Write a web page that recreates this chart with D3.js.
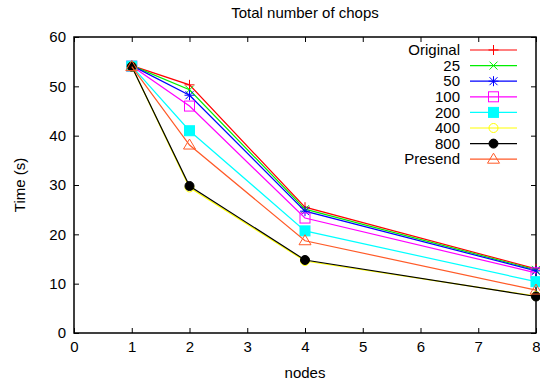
<!DOCTYPE html>
<html>
<head>
<meta charset="UTF-8">
<title>Total number of chops</title>
<style>
  body { margin: 0; background: #fff; }
  svg { display: block; font-family: "Liberation Sans", Arial, sans-serif; }
  text { fill: #000; }
</style>
</head>
<body>
<div id="app"></div>
<script src="https://d3js.org/d3.v7.min.js"></script>
<script>
// values
let nodes = [1, 2, 4, 8]
let original = [54.2, 50.3, 25.5, 13.0]
let s25 = [54.2, 49.3, 25.1, 12.8]
let s50 = [54.2, 48.2, 24.7, 12.6]
let s100 = [54.1, 46.0, 23.3, 12.2]
let s200 = [54.1, 41.0, 20.7, 10.4]
let s400 = [54.0, 29.5, 14.6, 7.5]
let s800 = [54.0, 29.8, 14.8, 7.4]
let presend = [54.0, 38.1, 18.7, 8.7]
let xTicks = [0, 1, 2, 3, 4, 5, 6, 7, 8]
let yTicks = [0, 10, 20, 30, 40, 50, 60]

let series = [
  { name: 'Original', values: original, color: '#ff0000', mark: 'plus' },
  { name: '25', values: s25, color: '#00ee00', mark: 'cross' },
  { name: '50', values: s50, color: '#0000ff', mark: 'star' },
  { name: '100', values: s100, color: '#ff00ff', mark: 'box' },
  { name: '200', values: s200, color: '#00ffff', mark: 'fbox' },
  { name: '400', values: s400, color: '#ffff00', mark: 'circle' },
  { name: '800', values: s800, color: '#000000', mark: 'fcircle' },
  { name: 'Presend', values: presend, color: '#ff5a28', mark: 'tri' }
]

let W = 540, H = 385
let pLeft = 74, pRight = 536, pTop = 37, pBottom = 333

let svg = d3.select('#app').append('svg')
  .attr('width', W).attr('height', H)

let x = d3.scaleLinear().domain([0, 8]).range([pLeft, pRight])
let y = d3.scaleLinear().domain([0, 60]).range([pBottom, pTop])

// ticks, inward with mirrors
let tk = 5
svg.append('g').attr('transform', 'translate(0,' + pBottom + ')')
  .call(d3.axisBottom(x).tickValues(xTicks).tickSize(-tk).tickPadding(8))
svg.append('g').attr('transform', 'translate(0,' + pTop + ')')
  .call(d3.axisTop(x).tickValues(xTicks).tickSize(-tk).tickFormat(''))
svg.append('g').attr('transform', 'translate(' + pLeft + ',0)')
  .call(d3.axisLeft(y).tickValues(yTicks).tickSize(-tk).tickPadding(8))
svg.append('g').attr('transform', 'translate(' + pRight + ',0)')
  .call(d3.axisRight(y).tickValues(yTicks).tickSize(-tk).tickFormat(''))

svg.selectAll('.domain').remove()
svg.selectAll('.tick line').attr('stroke', '#000').attr('stroke-width', 1)
svg.selectAll('.tick text').attr('font-size', 15).attr('font-family', '"Liberation Sans", Arial, sans-serif')

svg.append('rect')
  .attr('x', pLeft).attr('y', pTop)
  .attr('width', pRight - pLeft).attr('height', pBottom - pTop)
  .attr('fill', 'none').attr('stroke', '#000').attr('stroke-width', 1.5)

svg.append('text').attr('x', (pLeft + pRight) / 2).attr('y', 18)
  .attr('text-anchor', 'middle').attr('font-size', 15)
  .text('Total number of chops')
svg.append('text').attr('x', (pLeft + pRight) / 2).attr('y', 378)
  .attr('text-anchor', 'middle').attr('font-size', 15)
  .text('nodes')
svg.append('text')
  .attr('transform', 'translate(25,' + (pTop + pBottom) / 2 + ') rotate(-90)')
  .attr('text-anchor', 'middle').attr('font-size', 15)
  .text('Time (s)')

function drawMark(g, kind, cx, cy, color) {
  let r = 5
  if (kind === 'plus' || kind === 'star') {
    g.append('path').attr('d', 'M' + (cx - r) + ',' + cy + 'H' + (cx + r) + 'M' + cx + ',' + (cy - r) + 'V' + (cy + r))
      .attr('stroke', color).attr('fill', 'none')
  }
  if (kind === 'cross' || kind === 'star') {
    let d = r * 0.8
    g.append('path').attr('d', 'M' + (cx - d) + ',' + (cy - d) + 'L' + (cx + d) + ',' + (cy + d) + 'M' + (cx - d) + ',' + (cy + d) + 'L' + (cx + d) + ',' + (cy - d))
      .attr('stroke', color).attr('fill', 'none')
  }
  if (kind === 'box' || kind === 'fbox') {
    g.append('rect').attr('x', cx - r).attr('y', cy - r).attr('width', 2 * r).attr('height', 2 * r)
      .attr('stroke', color).attr('fill', kind === 'fbox' ? color : 'none')
  }
  if (kind === 'circle' || kind === 'fcircle') {
    g.append('circle').attr('cx', cx).attr('cy', cy).attr('r', r - 0.5)
      .attr('stroke', color).attr('fill', kind === 'fcircle' ? color : 'none')
  }
  if (kind === 'tri') {
    g.append('path').attr('d', 'M' + cx + ',' + (cy - r - 1) + 'L' + (cx + r + 1) + ',' + (cy + r - 1) + 'L' + (cx - r - 1) + ',' + (cy + r - 1) + 'Z')
      .attr('stroke', color).attr('fill', 'none')
  }
}

let line = d3.line().x((d, i) => x(nodes[i])).y(d => y(d))

series.forEach(s => {
  let g = svg.append('g')
  g.append('path').attr('d', line(s.values))
    .attr('fill', 'none').attr('stroke', s.color).attr('stroke-width', 1.2)
  s.values.forEach((v, i) => drawMark(g, s.mark, x(nodes[i]), y(v), s.color))
})

// legend
let lg = svg.append('g')
series.forEach((s, i) => {
  let ly = 50 + i * 15.6
  lg.append('text').attr('x', 460).attr('y', ly).attr('dy', '0.35em')
    .attr('text-anchor', 'end').attr('font-size', 15).text(s.name)
  lg.append('line').attr('x1', 470).attr('x2', 517).attr('y1', ly).attr('y2', ly)
    .attr('stroke', s.color).attr('stroke-width', 1.2)
  drawMark(lg, s.mark, 493.5, ly, s.color)
})
</script>
</body>
</html>
